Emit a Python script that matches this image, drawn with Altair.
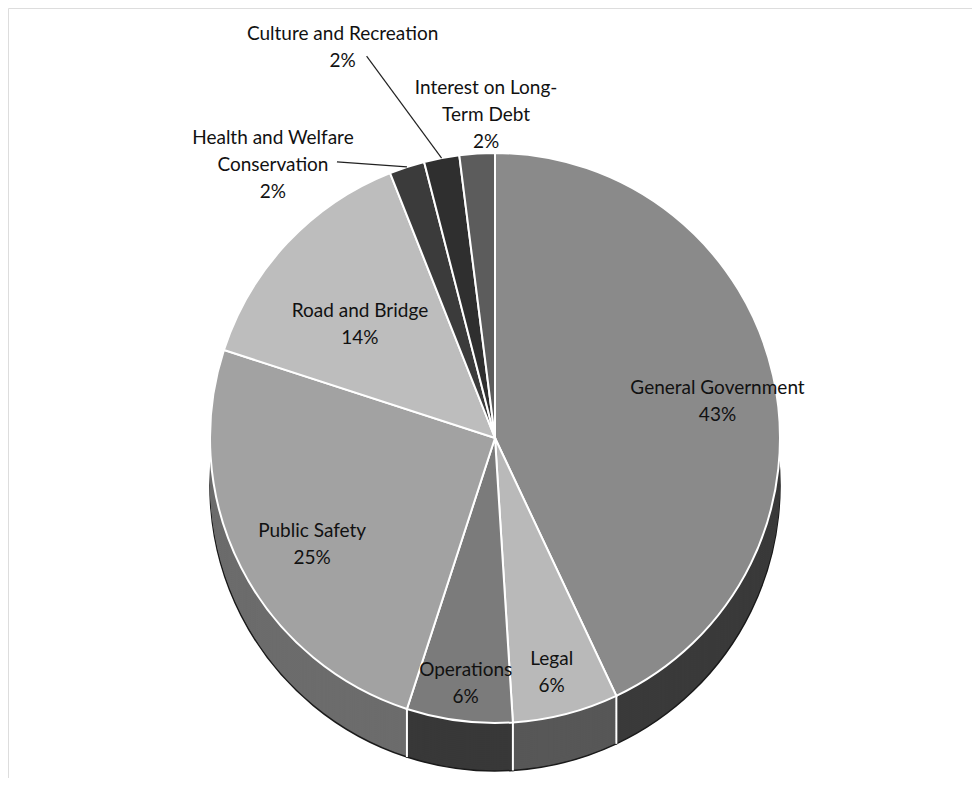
import altair as alt
import pandas as pd

# ---- data ----
categories = ["General Government", "Legal", "Operations", "Public Safety",
              "Road and Bridge", "Health and Welfare Conservation",
              "Culture and Recreation", "Interest on Long-Term Debt"]
values = [43, 6, 6, 25, 14, 2, 2, 2]
label_text = ["General Government", "Legal", "Operations", "Public Safety",
              "Road and Bridge", "Health and Welfare\nConservation",
              "Culture and Recreation", "Interest on Long-\nTerm Debt"]

# ---- styles ----
top_colors = ["#8a8a8a", "#b9b9b9", "#7b7b7b", "#a2a2a2", "#bdbdbd",
              "#3b3b3b", "#2f2f2f", "#5c5c5c"]
side_colors = ["#3a3a3a", "#575757", "#383838", "#6c6c6c", "#6c6c6c",
               "#222222", "#1e1e1e", "#333333"]

# ---- layout (label placement relative to slice) ----
label_r = [0.80, 0.80, 0.82, 0.72, 0.65, 1.0, 1.0, 1.0]
label_dx = [0, 0, 0, 0, 0, -134, -99, 9]
label_dy = [0, 0, 0, 0, 0, -29, -124, -66]
has_leader = [0, 0, 0, 0, 0, 1, 1, 0]
lead_dx = [0, 0, 0, 0, 0, 64, 24, 0]
lead_dy = [0, 0, 0, 0, 0, 24, 22, 0]

CX, CY, R, DEPTH = 487, 430, 285, 48
FONT = "Lato"

df = pd.DataFrame({
    "category": categories,
    "value": values,
    "idx": list(range(len(categories))),
    "label": [f"{t}\n{v}%" for t, v in zip(label_text, values)],
    "top": top_colors,
    "side": side_colors,
    "lr": label_r,
    "ldx": label_dx,
    "ldy": label_dy,
    "leader": has_leader,
    "edx": lead_dx,
    "edy": lead_dy,
})

theta = alt.Theta("value:Q", stack=True)
order = alt.Order("idx:Q", sort="ascending")

layers = []
# side wall: stacked offset copies, deepest first
depths = list(range(DEPTH, 0, -2))
for i, d in enumerate(depths):
    if i == 0:
        mk = alt.Chart(df).mark_arc(radius=R, stroke="#1a1a1a", strokeWidth=1.5)
    else:
        mk = alt.Chart(df).mark_arc(radius=R, strokeWidth=0)
    layers.append(mk.encode(theta=theta, order=order,
                            color=alt.Color("side:N", scale=None),
                            x=alt.value(CX), y=alt.value(CY + d)))

base = (alt.Chart(df)
        .transform_joinaggregate(total="sum(value)")
        .transform_window(cum="sum(value)", sort=[alt.SortField("idx", order="ascending")],
                          frame=[None, 0])
        .transform_calculate(
            endang="datum.cum / datum.total * 2 * PI",
            mid="(datum.cum - datum.value / 2) / datum.total * 2 * PI")
        .transform_calculate(
            bx=f"{CX} + {R} * sin(datum.endang)",
            by=f"{CY} - {R} * cos(datum.endang)",
            by2=f"{CY} - {R} * cos(datum.endang) + {DEPTH}",
            rx=f"{CX} + {R} * sin(datum.mid)",
            ry=f"{CY} - {R} * cos(datum.mid)",
            lx=f"{CX} + datum.lr * {R} * sin(datum.mid) + datum.ldx",
            ly=f"{CY} - datum.lr * {R} * cos(datum.mid) + datum.ldy"))

# white vertical separators on the front wall
seps = (base.transform_filter("cos(datum.endang) < 0")
        .mark_rule(color="white", strokeWidth=2)
        .encode(x=alt.X("bx:Q", scale=None, axis=None),
                y=alt.Y("by:Q", scale=None, axis=None),
                y2="by2:Q"))
layers.append(seps)

# top face
top = alt.Chart(df).mark_arc(radius=R, stroke="white", strokeWidth=2).encode(
    theta=theta, order=order,
    color=alt.Color("top:N", scale=None),
    x=alt.value(CX), y=alt.value(CY))
layers.append(top)

# leader lines
leaders = (base.transform_filter("datum.leader == 1")
           .transform_calculate(ex="datum.lx + datum.edx", ey="datum.ly + datum.edy")
           .mark_rule(color="#222222", strokeWidth=1.2)
           .encode(x=alt.X("rx:Q", scale=None, axis=None),
                   y=alt.Y("ry:Q", scale=None, axis=None),
                   x2="ex:Q", y2="ey:Q"))
layers.append(leaders)

labels = base.mark_text(font=FONT, fontSize=19, lineBreak="\n", lineHeight=27,
                        color="#111111", align="center", baseline="middle").encode(
    x=alt.X("lx:Q", scale=None, axis=None),
    y=alt.Y("ly:Q", scale=None, axis=None),
    text="label:N")
layers.append(labels)

chart = (alt.layer(*layers)
         .properties(width=964, height=770, padding=0,
                     autosize=alt.AutoSizeParams(type="none"))
         .configure_view(strokeWidth=0)
         .configure(background="white"))

chart.save("out.html", embed_options={"renderer": "svg", "actions": False})
